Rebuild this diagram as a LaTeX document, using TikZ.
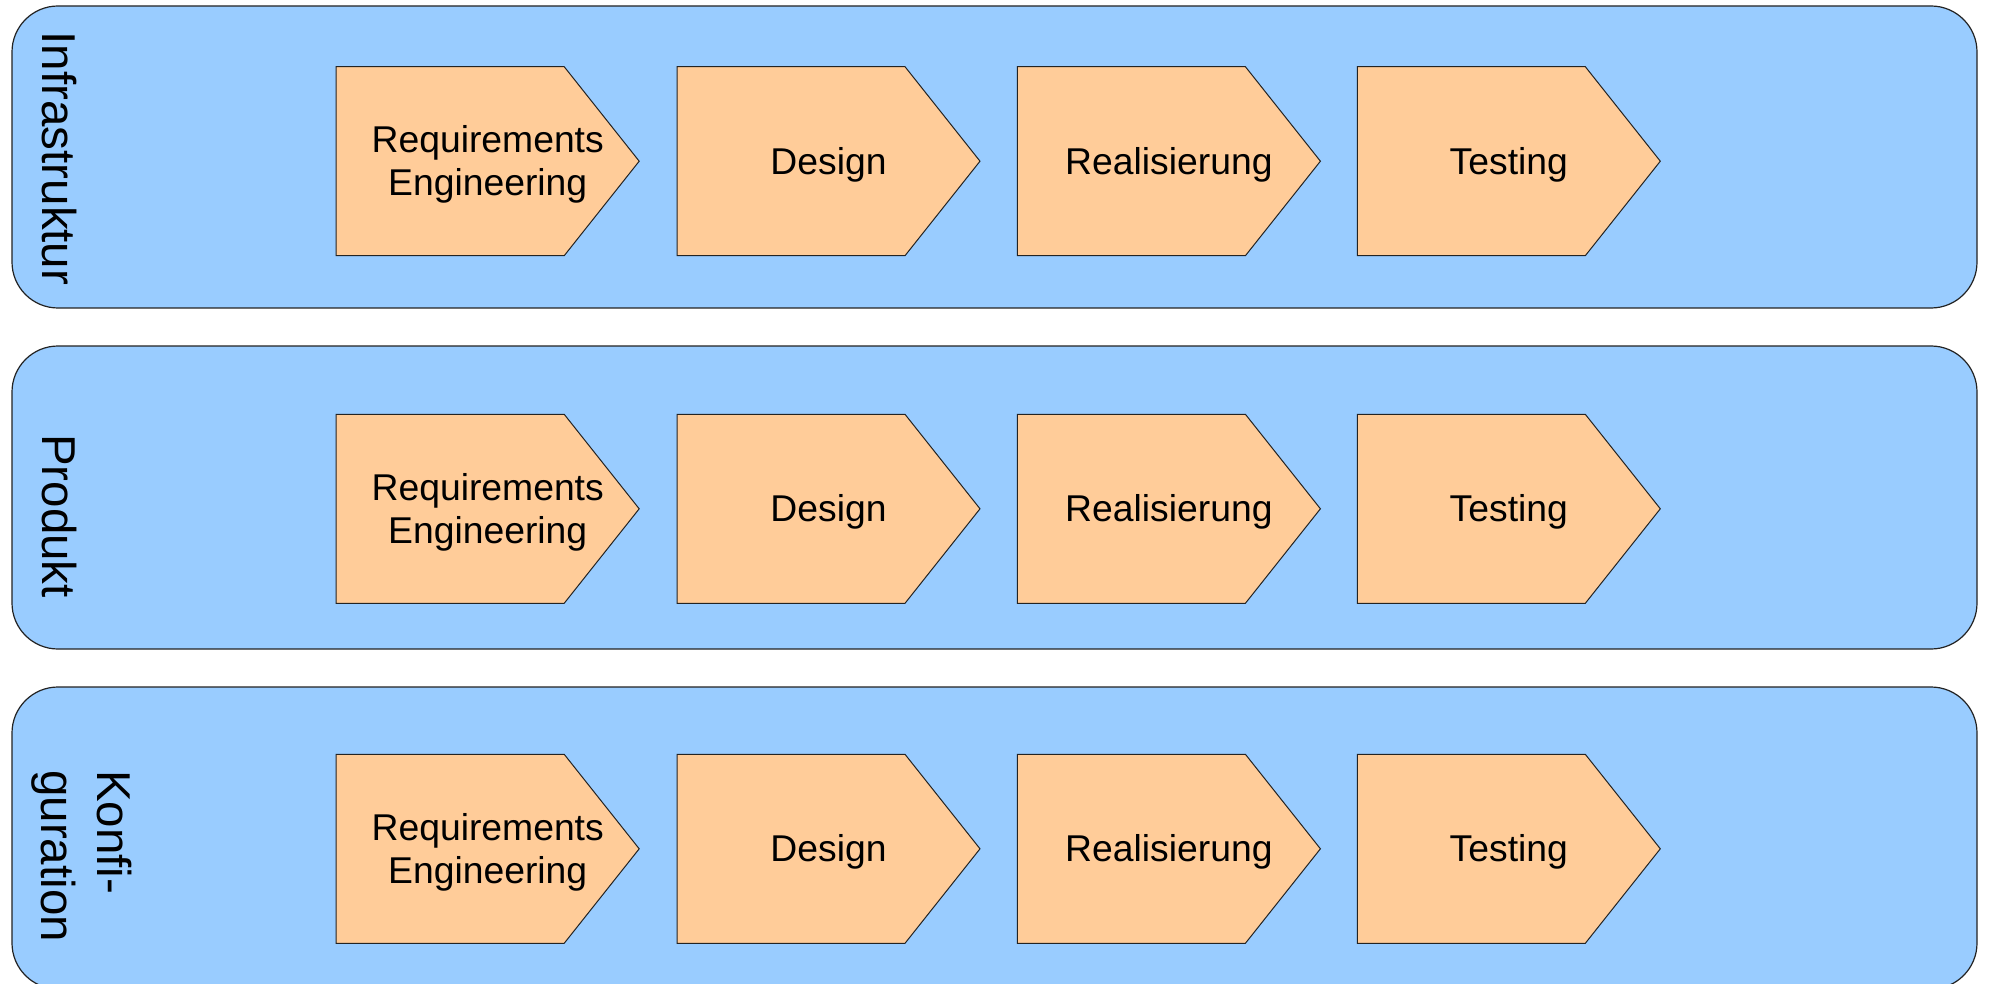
\documentclass[tikz,border=0pt]{standalone}
\usepackage{fontspec}
\setmainfont{Liberation Sans}[Ligatures=CommonOff]
\definecolor{lanefill}{RGB}{153,204,255}
\definecolor{stepfill}{RGB}{255,204,153}
\definecolor{edgecol}{RGB}{35,35,35}
\begin{document}
\begin{tikzpicture}[x=1pt,y=-1pt,
  lane/.style={draw=edgecol, line width=1.2pt, fill=lanefill, rounded corners=46pt,
    inner sep=0pt, outer sep=0pt, anchor=north west},
  stepshape/.style={draw=edgecol, line width=1pt, fill=stepfill, line join=miter},
  steplabel/.style={font=\fontsize{37.3}{43}\selectfont, align=center, inner sep=0pt},
  lanelabel/.style={font=\fontsize{47.5}{56}\selectfont, align=left, inner sep=0pt, rotate=-90}]
\clip (0,0) rectangle (1989,984);
\fill[white] (0,0) rectangle (1989,984);
% lanes
\node[lane, minimum width=1965pt, minimum height=302pt] (lane1) at (12,6) {};
\node[lane, minimum width=1965pt, minimum height=303pt] (lane2) at (12,346) {};
\node[lane, minimum width=1965pt, minimum height=302pt] (lane3) at (12,687) {};
% lane labels
\node[lanelabel, anchor=base] (lbl1) at (42,158.5) {Infrastruktur};
\node[lanelabel, anchor=base] (lbl2) at (42,516) {Produkt};
\node[lanelabel, anchor=north west] (lbl3) at (132,770) {Konfi-\\guration};
% steps
\foreach \ty [count=\j] in {66.7,414.3,754.3}{
  \foreach \lx/\txt [count=\i] in {336.2/{Requirements\\Engineering},677/Design,1017.4/Realisierung,1357.3/Testing}{
    \draw[stepshape] (\lx,\ty) -- ++(228,0) -- ++(75,94.5) -- ++(-75,94.5) -- ++(-228,0) -- cycle;
    \node[steplabel] (s\j\i) at (\lx+151.5,\ty+94.5+3.4) {\txt};
  }
}
\end{tikzpicture}
\end{document}
